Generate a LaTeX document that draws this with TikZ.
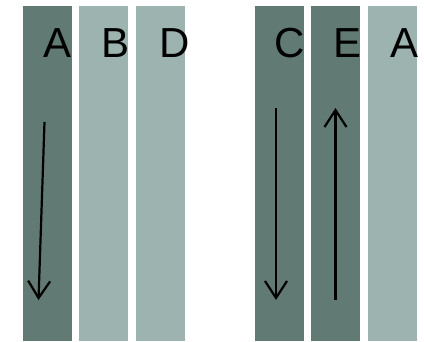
\documentclass[tikz,border=0pt]{standalone}
\usepackage{fontspec}
\setmainfont{Liberation Sans}
\usetikzlibrary{arrows.meta}
\definecolor{darkbar}{RGB}{97,122,116}
\definecolor{lightbar}{RGB}{157,179,175}
\begin{document}
\begin{tikzpicture}[x=1pt,y=-1pt,
  bar/.style={draw=none,inner sep=0pt,outer sep=0pt,minimum width=49pt,minimum height=335pt,anchor=north west},
  letter/.style={inner sep=0pt,anchor=base,font=\fontsize{42}{42}\selectfont},
  flow/.style={line width=2.2pt,-{Straight Barb[length=17pt,width=22pt,line width=2.2pt]}}]
\useasboundingbox (0,0) rectangle (424,341);
\node[bar,fill=darkbar] (b1) at (23,6) {};
\node[bar,fill=lightbar] (b2) at (79,6) {};
\node[bar,fill=lightbar] (b3) at (136,6) {};
\node[bar,fill=darkbar] (b4) at (255,6) {};
\node[bar,fill=darkbar] (b5) at (311,6) {};
\node[bar,fill=lightbar] (b6) at (368,6) {};
\node[letter] (l1) at (58,57) {A};
\node[letter] (l2) at (116,57) {B};
\node[letter] (l3) at (174.5,57) {D};
\node[letter] (l4) at (290,57) {C};
\node[letter] (l5) at (348,57) {E};
\node[letter] (l6) at (405,57) {A};
\coordinate (a1s) at (44.5,122);
\coordinate (a1e) at (38.5,300);
\coordinate (a2s) at (276,108);
\coordinate (a2e) at (276,300);
\coordinate (a3s) at (335.5,300);
\coordinate (a3e) at (335.5,108);
\draw[flow] (a1s) -- (a1e);
\draw[flow] (a2s) -- (a2e);
\draw[flow] (a3s) -- (a3e);
\end{tikzpicture}
\end{document}
